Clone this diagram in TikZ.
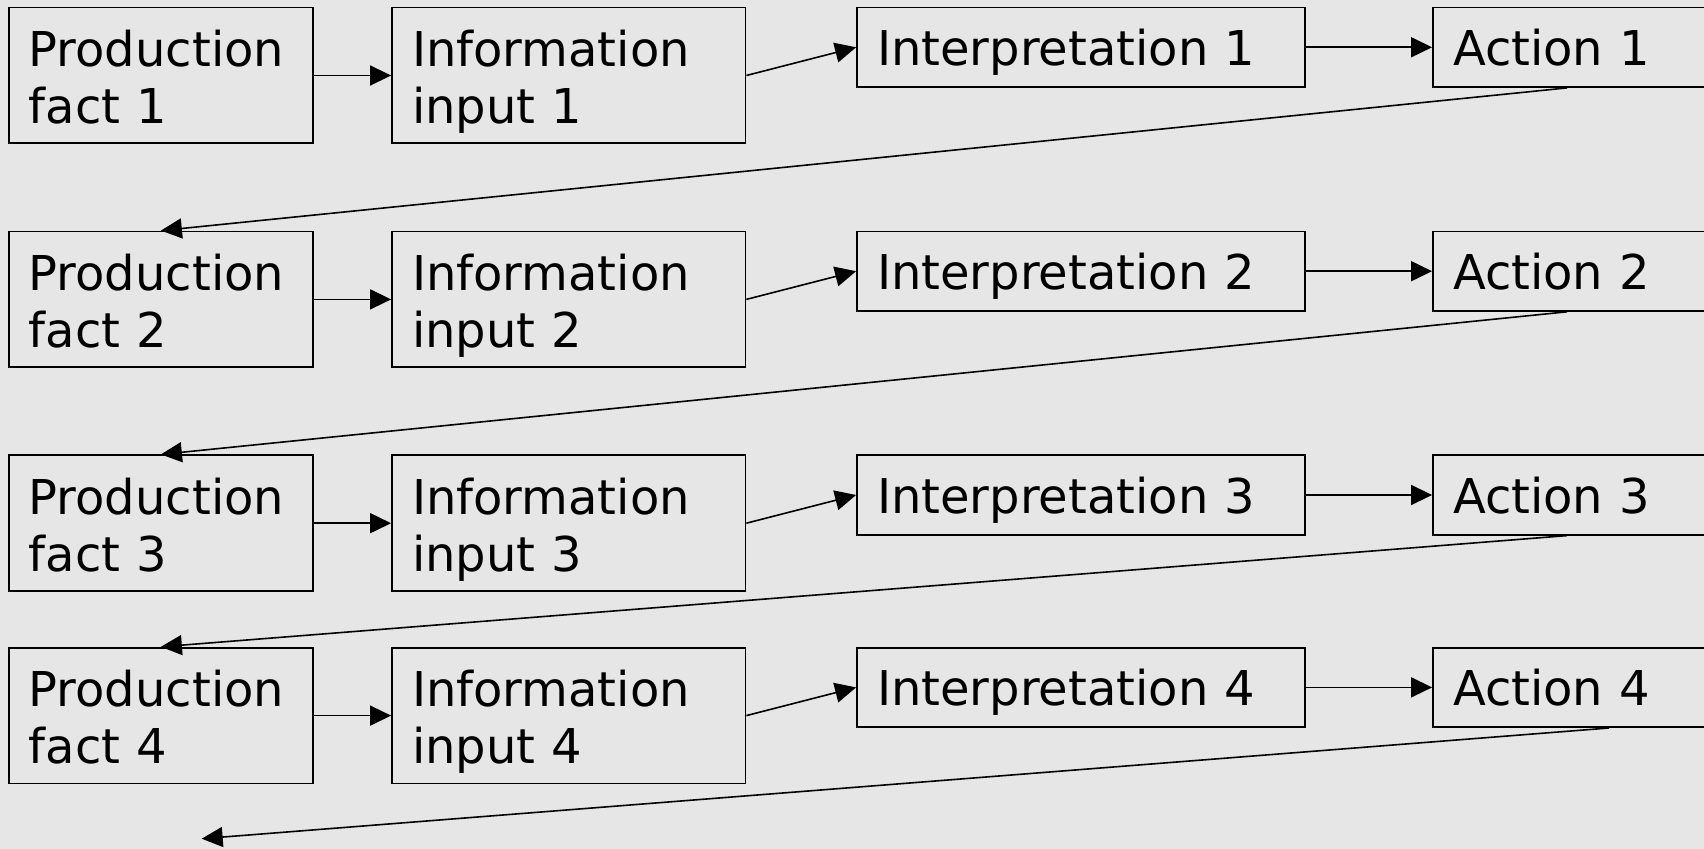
\documentclass[tikz,border=0pt]{standalone}
\usepackage{fontspec}
\setmainfont{DejaVu Sans}
\usetikzlibrary{arrows.meta}
\definecolor{bgc}{HTML}{E6E6E6}
\newcommand\twolines[2]{\noindent\rule{0pt}{19.7pt}\smash{#1}\\\smash{#2}}
\newcommand\oneline[1]{\noindent\rule{0pt}{18.4pt}\smash{#1}}
\tikzset{
  box/.style={draw=black, line width=0.9pt, rectangle, inner xsep=10pt, inner ysep=0pt,
    align=left, font=\fontsize{24}{28.5}\selectfont},
  bigbox/.style={box, minimum height=67.9pt},
  smallbox/.style={box, minimum height=39.7pt},
  arr/.style={draw=black, line width=0.8pt, -{Triangle[length=10.5pt,width=10pt]}}
}
\begin{document}
\begin{tikzpicture}[x=0.5pt,y=-0.5pt]
\useasboundingbox (0,0) rectangle (1704,849);
\clip (0,0) rectangle (1704,849);
\fill[bgc] (0,0) rectangle (1704,849);
\foreach \i/\t in {1/7.6, 2/231.5, 3/455.3, 4/647.7} {
  \node[bigbox, minimum width=152.15pt, text width=132.15pt] (p\i) at (160.9, \t+67.9) {\twolines{Production}{fact \i}};
  \node[bigbox, minimum width=176.75pt, text width=156.75pt] (n\i) at (568.75, \t+67.9) {\twolines{Information}{input \i}};
  \node[smallbox, minimum width=224pt, text width=204pt] (r\i) at (1081, \t+39.7) {\oneline{Interpretation \i}};
  \node[smallbox, minimum width=150pt, text width=130pt] (a\i) at (1583, \t+39.7) {\oneline{Action \i}};
  \draw[arr] (p\i.east) -- (n\i.west);
  \draw[arr] (n\i.east) -- (r\i.west);
  \draw[arr] (r\i.east) -- (a\i.west);
}
\foreach \i/\j in {1/2, 2/3, 3/4}
  \draw[arr] ([xshift=67.5pt]a\i.south west) -- (p\j.north);
\coordinate (endpt) at (201.7, 838.7);
\draw[arr] ([xshift=88.5pt]a4.south west) -- (endpt);
\end{tikzpicture}
\end{document}
